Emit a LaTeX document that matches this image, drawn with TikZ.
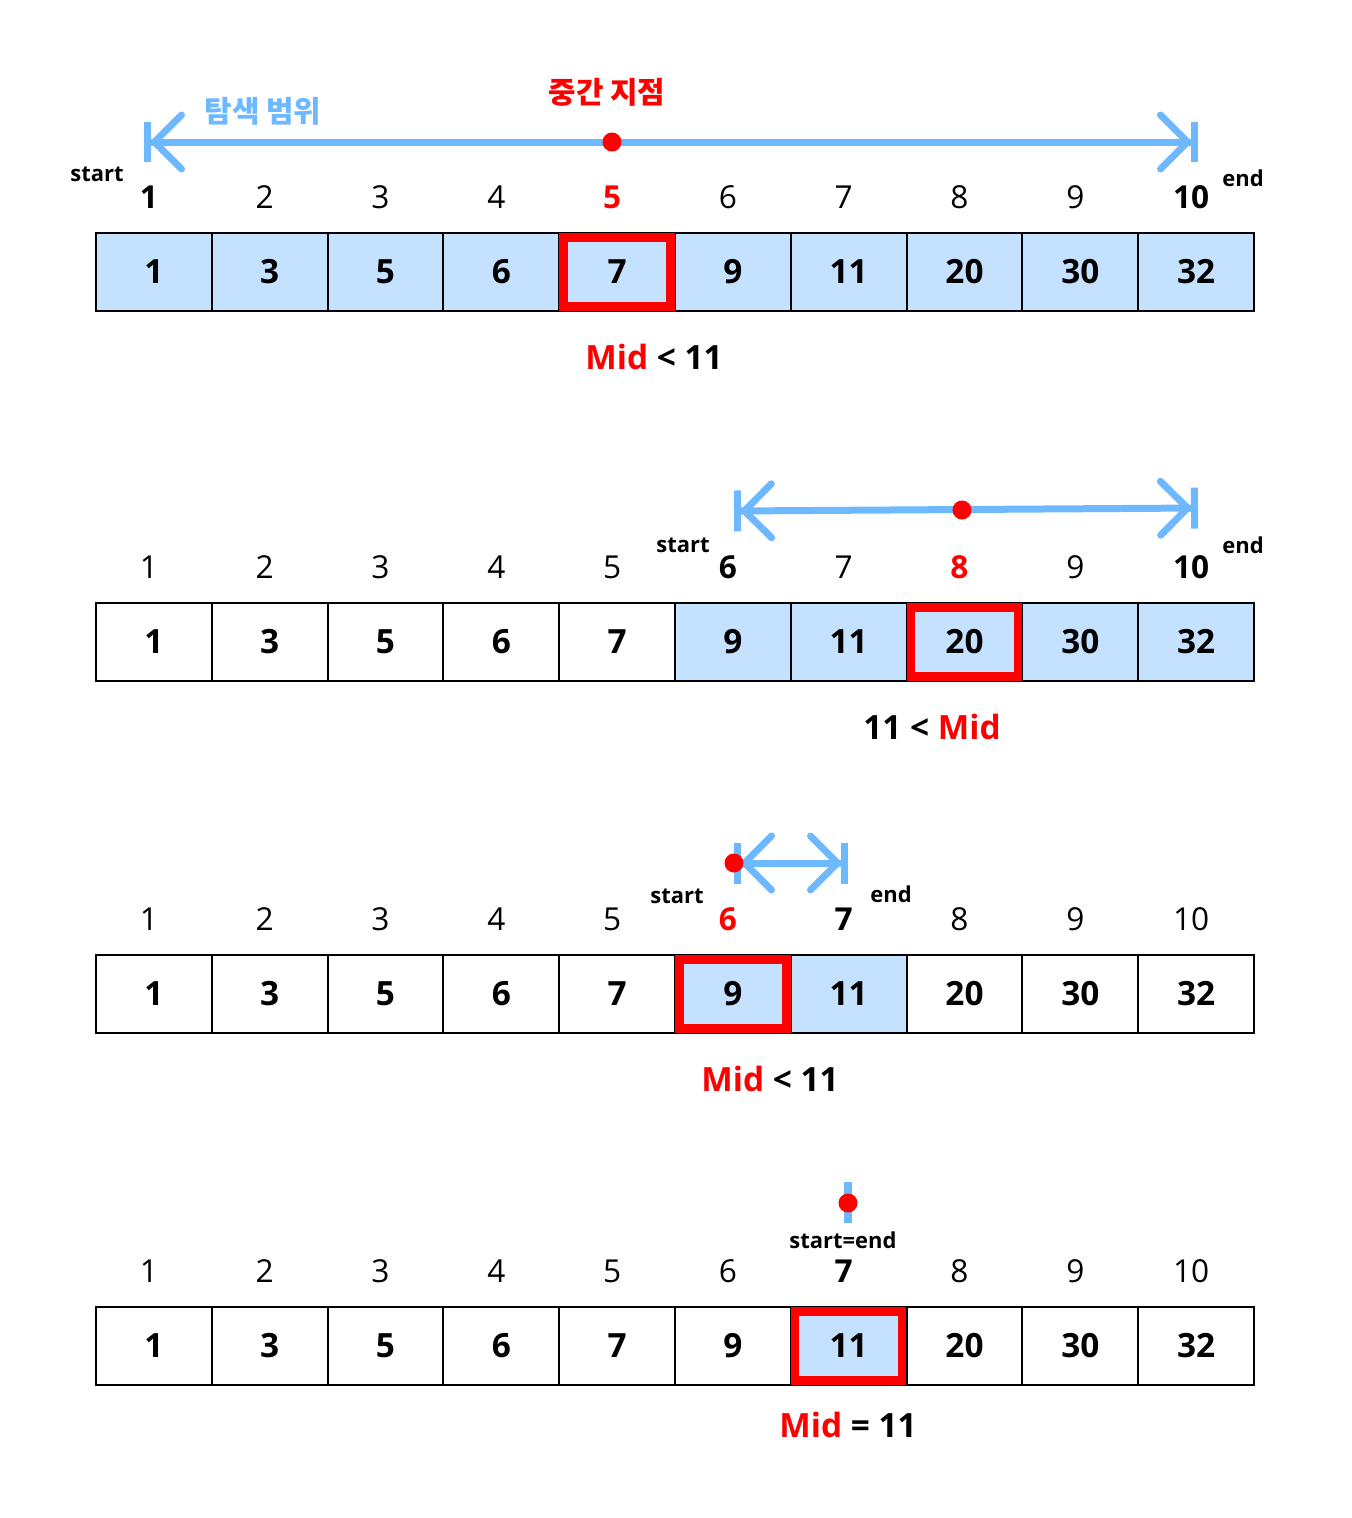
\documentclass[tikz,border=0pt]{standalone}
\usepackage{fontspec}
\setmainfont{Open Sans}
\newfontfamily\krfont{Noto Sans CJK KR}
\usetikzlibrary{arrows.meta, positioning}
\definecolor{rangeblue}{RGB}{110,184,255}
\definecolor{cellblue}{RGB}{196,226,255}
\definecolor{midred}{RGB}{255,0,0}

\begin{document}
\begin{tikzpicture}[
    x=0.02cm, y=-0.02cm,
    cell/.style={draw, line width=0.04cm, minimum width=2.316cm, minimum height=1.56cm, inner sep=0pt, font=\fontsize{19}{22}\selectfont\bfseries},
    cellon/.style={cell, fill=cellblue},
    celloff/.style={cell, fill=white},
    midbox/.style={draw=midred, line width=0.17cm, minimum width=2.14cm, minimum height=1.38cm, inner sep=0pt},
    idx/.style={font=\fontsize{18}{20}\selectfont, inner sep=0pt},
    idxend/.style={idx, font=\fontsize{18}{20}\selectfont\bfseries},
    idxmid/.style={idxend, text=midred},
    tag/.style={font=\fontsize{12.5}{14}\selectfont\bfseries, inner sep=0pt},
    cond/.style={font=\fontsize{19}{22}\selectfont\bfseries, inner sep=0pt},
    spanline/.style={draw=rangeblue, line width=0.14cm,
        arrows={{Bar[width=0.82cm,sep=0pt]Straight Barb[length=0.54cm,width=1.08cm,round,sep=0pt]}-{Straight Barb[length=0.54cm,width=1.08cm,round,sep=0pt]Bar[width=0.82cm,sep=0pt]}}},
    dot/.style={circle, fill=midred, minimum size=0.38cm, inner sep=0pt}
]
    \useasboundingbox (0,0) rectangle (1352,1518);

    % array rows (\mi = red index, 0 for none)
    \foreach \row/\ytop/\lo/\hi/\md/\mi in {1/233/1/10/5/5, 2/603/6/10/8/8, 3/955/6/7/6/6, 4/1307/7/7/7/0}{
        \foreach \v [count=\i] in {1,3,5,6,7,9,11,20,30,32}{
            \pgfmathtruncatemacro\on{(\i>=\lo)&&(\i<=\hi)}
            \ifnum\on=1 \def\cellstyle{cellon}\else\def\cellstyle{celloff}\fi
            \ifnum\i=\mi \def\idxstyle{idxmid}\else\ifnum\i=\lo \def\idxstyle{idxend}\else\ifnum\i=\hi \def\idxstyle{idxend}\else\def\idxstyle{idx}\fi\fi\fi
            \node[\cellstyle] (r\row c\i) at ({96+115.8*(\i-0.5)},{\ytop+39}) {\v};
            \node[\idxstyle] (r\row i\i) at ({96+115.8*(\i-0.5)-5},{\ytop-36}) {\i};
        }
        \node[midbox] (r\row mid) at (r\row c\md) {};
    }

    % search ranges
    \coordinate (s1) at (144,142);
    \coordinate (e1) at (1198,142);
    \draw[spanline] (s1) -- (e1);
    \node[dot] (m1) at (612,142) {};

    \coordinate (s2) at (734,511);
    \coordinate (e2) at (1198,508);
    \draw[spanline] (s2) -- (e2);
    \node[dot] (m2) at (962,510) {};

    \coordinate (s3) at (734,863);
    \coordinate (e3) at (848,863);
    \draw[spanline] (s3) -- (e3);
    \node[dot] (m3) at (734,863) {};

    \coordinate (s4) at (848,1182);
    \coordinate (e4) at (848,1223);
    \draw[draw=rangeblue, line width=0.16cm] (s4) -- (e4);
    \node[dot] (m4) at (848,1203) {};

    % labels
    \node[font=\krfont\bfseries\fontsize{17}{19}\selectfont, text=rangeblue] (range_lbl) at (263,111) {탐색 범위};
    \node[font=\krfont\bfseries\fontsize{17}{19}\selectfont, text=midred] (mid_lbl) at (607,92) {중간 지점};

    \node[tag] (start1) at (97,174) {start};
    \node[tag] (end1) at (1243,178) {end};
    \node[tag] (start2) at (683,545) {start};
    \node[tag] (end2) at (1243,545) {end};
    \node[tag] (start3) at (677,896) {start};
    \node[tag] (end3) at (891,894) {end};
    \node[tag] (start4) at (843,1240) {start=end};

    \node[cond] (cond1) at (654,357) {\textcolor{midred}{Mid} < 11};
    \node[cond] (cond2) at (932,727) {11 < \textcolor{midred}{Mid}};
    \node[cond] (cond3) at (770,1079) {\textcolor{midred}{Mid} < 11};
    \node[cond] (cond4) at (848,1425) {\textcolor{midred}{Mid} = 11};
\end{tikzpicture}
\end{document}
